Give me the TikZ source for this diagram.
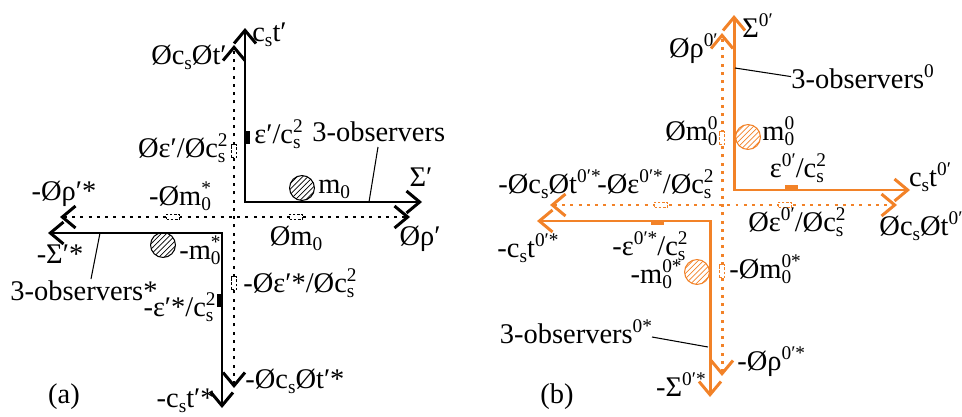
\documentclass[tikz,border=0pt]{standalone}
\usepackage{fontspec}
\setmainfont{Liberation Serif}
\usepackage{xcolor}
\usetikzlibrary{arrows.meta, patterns}
\definecolor{obsorange}{RGB}{242, 130, 40}
\newcommand\lo[1]{\raisebox{-0.2em}{\fontsize{11}{12}\selectfont #1}}
\newcommand\hi[1]{\raisebox{0.36em}{\fontsize{11}{12}\selectfont #1}}
\newcommand\lohi[2]{\rlap{\lo{#1}}\hi{#2}}

\begin{document}
\begin{tikzpicture}[x=0.02cm, y=-0.02cm,
      lbl/.style={font=\fontsize{16.2}{18}\selectfont, inner sep=0pt},
      tip/.tip={Straight Barb[length=7.5pt, width=12.5pt]},
      axis/.style={line width=1.7pt, tip-tip, line join=miter},
      dotaxis/.style={axis, dash pattern=on 1.7pt off 3pt},
      leader/.style={line width=0.6pt},
      body/.style={circle, draw, line width=0.6pt, minimum size=25*0.567pt,
        inner sep=0pt, pattern=north east lines},
      solidmark/.style={rectangle, fill, inner sep=0pt},
      dotmark/.style={rectangle, draw, fill=white, line width=0.9pt,
        dash pattern=on 1.5pt off 0.9pt, inner sep=0pt},
      vmark/.style={minimum width=3pt, minimum height=7.4pt},
      hmark/.style={minimum width=7.4pt, minimum height=3pt}
    ]
    \useasboundingbox (0,0) rectangle (962,416);

    % (a) primed frame and its mirror
    \coordinate (aTop) at (245,28);
    \coordinate (aCorner) at (245,202);
    \coordinate (aRight) at (422,202);
    \coordinate (aLeft) at (48,233);
    \coordinate (aCornerS) at (222,233);
    \coordinate (aBottom) at (222,408);
    \coordinate (aDotTop) at (234,45);
    \coordinate (aDotBottom) at (234,388);
    \coordinate (aDotLeft) at (60,217);
    \coordinate (aDotRight) at (410,217);

    \draw[dotaxis] (aDotBottom) -- (aDotTop);
    \draw[dotaxis] (aDotLeft) -- (aDotRight);
    \draw[axis] (aTop) -- (aCorner) -- (aRight);
    \draw[axis] (aLeft) -- (aCornerS) -- (aBottom);

    \node[body] (aMass) at (302,188) {};
    \node[body] (aMassS) at (163,245) {};

    \node[solidmark, vmark] (aEps) at (247.5,137) {};
    \node[solidmark, vmark] (aEpsS) at (220,300) {};
    \node[dotmark, vmark] (aDEps) at (234,151) {};
    \node[dotmark, vmark] (aDEpsS) at (234,283) {};
    \node[dotmark, hmark] (aDMassS) at (173,217) {};
    \node[dotmark, hmark] (aDMass) at (296,217) {};

    \node[lbl, anchor=base west] (ct) at (252,41) {c\lo{s}t′};
    \node[lbl, anchor=base east] (dct) at (227,64) {Øc\lo{s}Øt′};
    \node[lbl, anchor=base west] (eps) at (254,143) {ε′/c\lohi{s}{2}};
    \node[lbl, anchor=base west] (obs) at (312,141) {3-observers};
    \node[lbl, anchor=base east] (deps) at (228,157) {Øε′/Øc\lohi{s}{2}};
    \node[lbl, anchor=base] (sig) at (421,186) {Σ′};
    \node[lbl, anchor=base west] (mass) at (318,193) {m\lo{0}};
    \node[lbl, anchor=base] (drhos) at (64,200) {-Øρ′*};
    \node[lbl, anchor=base] (dmasss) at (180,205) {-Øm\lohi{0}{*}};
    \node[lbl, anchor=base] (dmass) at (296,245) {Øm\lo{0}};
    \node[lbl, anchor=base] (drho) at (420,245) {Øρ′};
    \node[lbl, anchor=base] (sigs) at (60,263) {-Σ′*};
    \node[lbl, anchor=base west] (masss) at (179,259) {-m\lohi{0}{*}};
    \node[lbl, anchor=base] (obss) at (84,300) {3-observers*};
    \node[lbl, anchor=base east] (epss) at (216,316) {-ε′*/c\lohi{s}{2}};
    \node[lbl, anchor=base west] (depss) at (243,292) {-Øε′*/Øc\lohi{s}{2}};
    \node[lbl, anchor=base west] (dcts) at (245,388) {-Øc\lo{s}Øt′*};
    \node[lbl, anchor=base east] (cts) at (215,407) {-c\lo{s}t′*};
    \node[lbl, anchor=base] (capa) at (64,403) {(a)};

    \coordinate (obsFoot) at (369,202);
    \coordinate (obsHead) at (378,147);
    \coordinate (obssFoot) at (100,233);
    \coordinate (obssHead) at (91,279);
    \draw[leader] (obsHead) -- (obsFoot);
    \draw[leader] (obssHead) -- (obssFoot);

    % (b) zero frame and its mirror
    \begin{scope}[obsorange]
      \coordinate (bTop) at (734,15);
      \coordinate (bCorner) at (734,190);
      \coordinate (bRight) at (910,190);
      \coordinate (bLeft) at (537,221);
      \coordinate (bCornerS) at (710,221);
      \coordinate (bBottom) at (710,397);
      \coordinate (bDotTop) at (722,33);
      \coordinate (bDotBottom) at (722,376);
      \coordinate (bDotLeft) at (550,205);
      \coordinate (bDotRight) at (897,205);

      \draw[dotaxis] (bDotBottom) -- (bDotTop);
      \draw[dotaxis] (bDotLeft) -- (bDotRight);
      \draw[axis] (bTop) -- (bCorner) -- (bRight);
      \draw[axis] (bLeft) -- (bCornerS) -- (bBottom);

      \node[body, pattern color=obsorange] (bMass) at (748,137) {};
      \node[body, pattern color=obsorange] (bMassS) at (697,272) {};

      \node[solidmark, hmark] (bEps) at (791,187.5) {};
      \node[solidmark, hmark] (bEpsS) at (657,222.5) {};
      \node[dotmark, vmark] (bDMass) at (722,138) {};
      \node[dotmark, vmark] (bDMassS) at (722,271) {};
      \node[dotmark, hmark] (bDEpsS) at (661,205) {};
      \node[dotmark, hmark] (bDEps) at (785,205) {};
    \end{scope}

    \node[lbl, anchor=base west] (sig0) at (742,37) {Σ\hi{0′}};
    \node[lbl, anchor=base east] (drho0) at (718,57) {Øρ\hi{0′}};
    \node[lbl, anchor=base west] (obs0) at (791,88) {3-observers\hi{0}};
    \node[lbl, anchor=base west] (mass0) at (762,140) {m\lohi{0}{0}};
    \node[lbl, anchor=base east] (dmass0) at (718,140) {Øm\lohi{0}{0}};
    \node[lbl, anchor=base] (eps0) at (798,177) {ε\hi{0′}/c\lohi{s}{2}};
    \node[lbl, anchor=base] (ct0) at (930,186) {c\lo{s}t\hi{0′}};
    \node[lbl, anchor=base east] (dcts0) at (601,193) {-Øc\lo{s}Øt\hi{0′*}};
    \node[lbl, anchor=base east] (depss0) at (714,193) {-Øε\hi{0′*}/Øc\lohi{s}{2}};
    \node[lbl, anchor=base] (deps0) at (797,231) {Øε\hi{0′}/Øc\lohi{s}{2}};
    \node[lbl, anchor=base] (dct0) at (921,235) {Øc\lo{s}Øt\hi{0′}};
    \node[lbl, anchor=base] (cts0) at (528,257) {-c\lo{s}t\hi{0′*}};
    \node[lbl, anchor=base] (epss0) at (650,255) {-ε\hi{0′*}/c\lohi{s}{2}};
    \node[lbl, anchor=base east] (masss0) at (682,283) {-m\lohi{0}{0*}};
    \node[lbl, anchor=base west] (dmasss0) at (729,278) {-Øm\lohi{0}{0*}};
    \node[lbl, anchor=base] (obss0) at (576,343) {3-observers\hi{0*}};
    \node[lbl, anchor=base west] (drhos0) at (737,370) {-Øρ\hi{0′*}};
    \node[lbl, anchor=base east] (sigs0) at (706,396) {-Σ\hi{0′*}};
    \node[lbl, anchor=base] (capb) at (557,403) {(b)};

    \coordinate (obs0Foot) at (735,68);
    \coordinate (obss0Foot) at (708,347);
    \coordinate (obss0Head) at (652,337);
    \draw[leader] (obs0Foot) -- (obs0.west);
    \draw[leader] (obss0Head) -- (obss0Foot);
  \end{tikzpicture}
\end{document}
